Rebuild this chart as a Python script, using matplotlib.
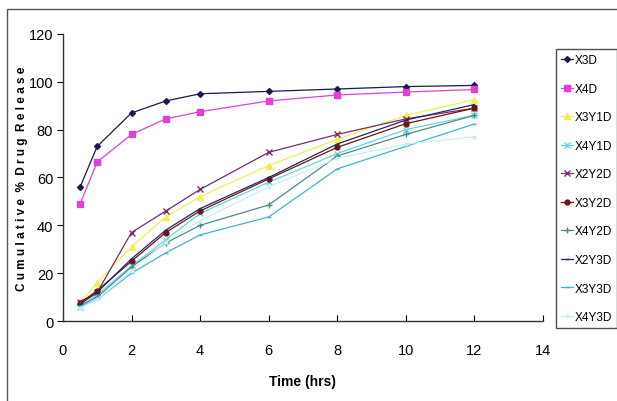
import matplotlib
matplotlib.use("Agg")
import matplotlib.pyplot as plt
from matplotlib.patches import Rectangle

# time points (hrs)
time = [0.5, 1, 2, 3, 4, 6, 8, 10, 12]

# cumulative % drug release
x3d = [56, 73, 87, 92, 95, 96, 97, 98, 98.5]
x4d = [49, 66.5, 78, 84.5, 87.5, 92, 94.5, 95.7, 96.8]
x3y1d = [8, 16, 31, 43.5, 52, 65, 76, 86, 92.5]
x4y1d = [6, 11, 23, 34, 45, 58, 70, 80, 86]
x2y2d = [8, 12, 37, 46, 55, 70.5, 78, 84.5, 89]
x3y2d = [7.5, 12.7, 25, 37, 46, 59.4, 72.6, 82.5, 89]
x4y2d = [6.5, 10, 22.6, 32.6, 40, 48.5, 69, 78, 86]
x2y3d = [7, 12, 26, 38, 47, 60, 74, 84, 90.5]
x3y3d = [6, 9, 20, 28.5, 36, 43.5, 63.6, 73, 82.4]
x4y3d = [5.5, 9, 21, 33, 42, 56, 68, 74, 77]

names = ["X3D", "X4D", "X3Y1D", "X4Y1D", "X2Y2D", "X3Y2D", "X4Y2D", "X2Y3D", "X3Y3D", "X4Y3D"]
series = [x3d, x4d, x3y1d, x4y1d, x2y2d, x3y2d, x4y2d, x2y3d, x3y3d, x4y3d]
colors = ["#1a1a50", "#e040d8", "#f4ee50", "#5fd8e0", "#70306e",
          "#6e1414", "#4e8a8a", "#262660", "#3cb8c8", "#c8f0f4"]
markers = ["D", "s", "^", "x", "x", "o", "+", "_", "_", "o"]
sizes = [3, 4, 4, 4, 4, 3.5, 4.5, 3.5, 3.5, 2]

plt.rcParams["font.family"] = ["Liberation Sans", "DejaVu Sans"]

fig = plt.figure(figsize=(6.17, 4.02), dpi=100)
ax = fig.add_axes([0.102, 0.199, 0.778, 0.714])

for y, name, c, m, s in zip(series, names, colors, markers, sizes):
    ax.plot(time, y, color=c, marker=m, markersize=s, linewidth=0.9,
            markeredgewidth=1.0, label=name)

ax.set_xlim(0, 14)
ax.set_ylim(0, 120)
ax.set_xticks(range(0, 15, 2))
ax.set_yticks(range(0, 121, 20))
ax.spines["top"].set_visible(False)
ax.spines["right"].set_visible(False)
for sp in ("left", "bottom"):
    ax.spines[sp].set_color("#333333")
    ax.spines[sp].set_linewidth(1.0)
ax.tick_params(axis="y", direction="out", length=4, labelsize=10.5, pad=3)
ax.tick_params(axis="x", direction="in", length=4, labelsize=10.5, pad=16)

ax.set_xlabel("Time (hrs)", fontsize=10, fontweight="bold", labelpad=12)
fig.text(0.036, 0.555, "C u m u l a t i v e  %  D r u g  R e l e a s e", rotation=90,
         ha="center", va="center", fontsize=8.5, fontweight="bold")

leg = fig.legend(loc="upper left", bbox_to_anchor=(556 / 617, 1 - 50 / 402),
                 frameon=True, fancybox=False, edgecolor="#222222",
                 fontsize=8.5, handlelength=1.0, handletextpad=0.1,
                 labelspacing=1.4, borderpad=0.45, borderaxespad=0)
leg.get_frame().set_linewidth(1.0)

# outer chart border
fig.add_artist(Rectangle((7 / 617, -0.05), 1.1, 1 - 10 / 402 + 0.05,
                         transform=fig.transFigure, fill=False,
                         edgecolor="#555555", linewidth=1.0))

fig.savefig("out.png", dpi=100)
